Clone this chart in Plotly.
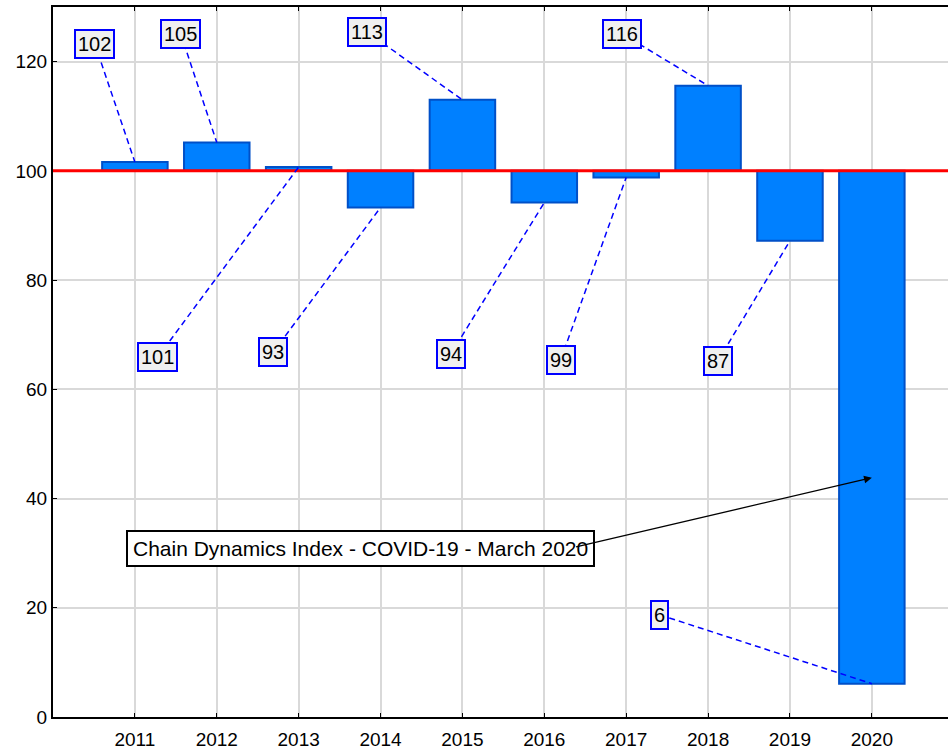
import plotly.graph_objects as go

years = [2011, 2012, 2013, 2014, 2015, 2016, 2017, 2018, 2019, 2020]
index_values = [101.6, 105.2, 100.7, 93.3, 113.0, 94.2, 98.8, 115.6, 87.2, 6.1]
label_texts = [str(round(v)) for v in index_values]
base_level = 100
note_text = "Chain Dynamics Index - COVID-19 - March 2020"

# where each value label box sits (data coords)
label_pos = [(2010.51, 123.3), (2011.56, 125.1), (2011.28, 65.9), (2012.69, 66.8),
             (2013.83, 125.5), (2014.86, 66.5), (2016.20, 65.4), (2016.95, 125.1),
             (2018.12, 65.2), (2017.41, 18.7)]

fig = go.Figure()
fig.add_trace(go.Bar(
    x=years, y=[v - base_level for v in index_values], base=base_level,
    width=0.8, marker=dict(color='#0080ff', line=dict(color='#0050c8', width=2)),
    showlegend=False, hoverinfo='skip'))

# reference line at 100
fig.add_shape(type='line', xref='paper', yref='y', x0=0, x1=1, y0=base_level, y1=base_level,
              line=dict(color='#ff0000', width=3))

for yr, val, txt, (lx, ly) in zip(years, index_values, label_texts, label_pos):
    fig.add_shape(type='line', xref='x', yref='y', x0=lx, y0=ly, x1=yr, y1=val,
                  line=dict(color='#0000ff', width=1.5, dash='6px,4px'))
    fig.add_annotation(x=lx, y=ly, text=txt, showarrow=False,
                       font=dict(family='Arial, Liberation Sans', size=20, color='black'),
                       bgcolor='#f0f0f0', bordercolor='#0000ff', borderwidth=2, borderpad=2)

# note box, then the arrow from the end of its text into the 2020 bar
fig.add_annotation(x=2013.76, y=30.9, text=note_text, showarrow=False,
                   font=dict(family='Arial, Liberation Sans', size=21, color='black'),
                   bgcolor='white', bordercolor='black', borderwidth=2, borderpad=5)
fig.add_annotation(x=2020, y=43.8, ax=2016.37, ay=31.1, axref='x', ayref='y',
                   text='', showarrow=True,
                   arrowhead=2, arrowsize=1.2, arrowwidth=1.3, arrowcolor='black')

fig.update_layout(
    width=948, height=753,
    margin=dict(l=53, r=0, t=7, b=36),
    plot_bgcolor='white', paper_bgcolor='white',
    font=dict(family='Arial, Liberation Sans', size=19, color='black'),
    bargap=0.2,
)
fig.update_xaxes(range=[2010, 2020.93], tickvals=years, ticktext=[str(y) for y in years],
                 showgrid=True, gridcolor='#d9d9d9', gridwidth=1.5,
                 showline=True, linecolor='black', linewidth=2, mirror='ticks',
                 ticks='inside', ticklen=4, tickcolor='black', zeroline=False,
                 ticklabelstandoff=4)
fig.update_yaxes(range=[0, 130], tickvals=[0, 20, 40, 60, 80, 100, 120],
                 showgrid=True, gridcolor='#d9d9d9', gridwidth=1.5,
                 showline=True, linecolor='black', linewidth=2,
                 ticks='inside', ticklen=4, tickcolor='black', zeroline=False)

fig.write_html("out.html", config={'displayModeBar': False},
               post_script="document.body.style.margin='0px';")
